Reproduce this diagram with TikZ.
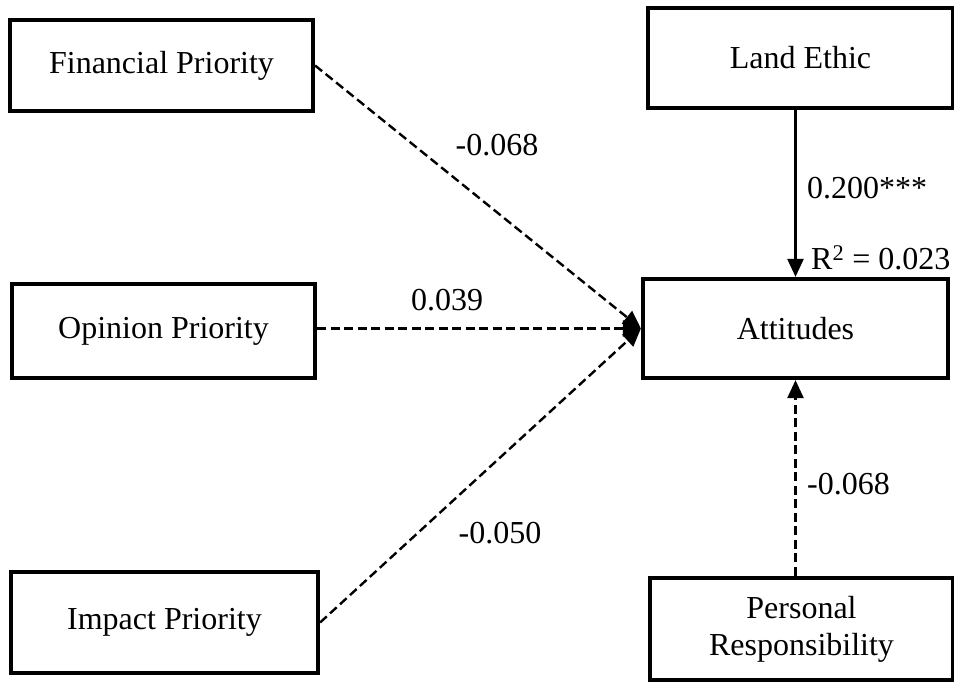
\documentclass[tikz,border=0pt]{standalone}
\usepackage{fontspec}
\setmainfont{Liberation Serif}
\usetikzlibrary{arrows.meta}

\tikzset{
  var/.style={draw, line width=4.2pt, fill=white, align=center, inner sep=0pt,
              font=\fontsize{32}{37}\selectfont},
  path/.style={line width=2.4pt, -{Triangle[length=18pt, width=16pt]}},
  nonsig/.style={path, dash pattern=on 9pt off 4.5pt},
  coef/.style={font=\fontsize{32}{37}\selectfont, inner sep=0pt}
}

\begin{document}
\begin{tikzpicture}[x=1pt, y=-1pt]
  \useasboundingbox (0,0) rectangle (954,681);

  % predictor and outcome boxes
  \node[var, minimum width=303pt, minimum height=91pt]  (fin)  at (161.5,65.5) {Financial Priority};
  \node[var, minimum width=303pt, minimum height=94pt]  (opi)  at (163.5,331)  {Opinion Priority};
  \node[var, minimum width=307pt, minimum height=101pt] (imp)  at (164.5,622.5) {Impact Priority};
  \node[var, minimum width=305pt, minimum height=100pt] (land) at (800.5,58)   {Land Ethic};
  \node[var, minimum width=305pt, minimum height=99pt]  (att)  at (795.5,328.5) {Attitudes};
  \node[var, minimum width=303pt, minimum height=102pt] (pers) at (801.5,629)  {Personal\\Responsibility};

  % paths into Attitudes
  \draw[nonsig] (fin.east) -- (att.west);
  \draw[nonsig] (opi.east |- att.west) -- (att.west);
  \draw[nonsig] (imp.east) -- (att.west);
  \draw[path] (att.north |- land.south) -- (att.north);
  \draw[nonsig] (att.south |- pers.north) -- (att.south);

  % path coefficients
  \node[coef] (cfin) at (497,145) {-0.068};
  \node[coef] (copi) at (447,300) {0.039};
  \node[coef] (cimp) at (500,533) {-0.050};
  \node[coef, anchor=west] (cland) at (807,188) {0.200***};
  \node[coef, anchor=west] (rsq)   at (811,258) {R\textsuperscript{2} = 0.023};
  \node[coef, anchor=west] (cpers) at (807,484) {-0.068};
\end{tikzpicture}
\end{document}
